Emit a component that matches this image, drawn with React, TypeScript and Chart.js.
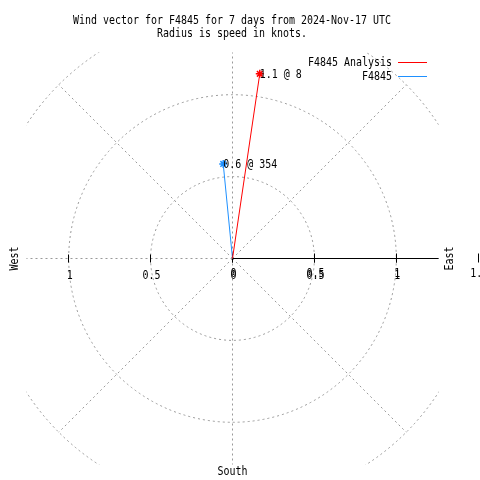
import { useEffect, useRef } from "react";
import { Chart, registerables } from "chart.js";

Chart.register(...registerables);

// ---- data ----
const titleLines = [
  "Wind vector for F4845 for 7 days from 2024-Nov-17 UTC",
  "Radius is speed in knots.",
];
const seriesNames = ["F4845 Analysis", "F4845"];
const speeds = [1.14, 0.58]; // knots
const directions = [8.4, 354.4]; // degrees, compass
const seriesColors = ["#ff0000", "#1e90ff"];
const ringRadii = [0.5, 1, 1.5];
const spokeDirections = [0, 45, 90, 135, 180, 225, 270, 315];
const axisTicks = [-1, -0.5, 0, 0.5, 1];
const radiusTicks = [0, 0.5, 1, 1.5];
const compassWest = "West";
const compassEast = "East";
const compassSouth = "South";

const BOX = 1.258;
const FONT = '12px "DejaVu Sans Mono", "Liberation Mono", monospace';
const CW = 6;

function txt(ctx: CanvasRenderingContext2D, s: string, x: number, y: number, align: CanvasTextAlign) {
  ctx.textAlign = align;
  ctx.fillText(s, x, y, s.length * CW);
}

const fmt = (v: number) => String(Math.abs(v));

const polarPlugin = {
  id: "polarGrid",
  beforeDatasetsDraw(chart: any) {
    const ctx: CanvasRenderingContext2D = chart.ctx;
    const xs = chart.scales.x;
    const ys = chart.scales.y;
    const px = (v: number) => xs.getPixelForValue(v);
    const py = (v: number) => ys.getPixelForValue(v);
    const cx = px(0);
    const cy = py(0);
    const kx = px(1) - cx;
    const ky = cy - py(1);
    ctx.save();
    ctx.beginPath();
    ctx.rect(px(-BOX), py(BOX), px(BOX) - px(-BOX), py(-BOX) - py(BOX));
    ctx.clip();
    ctx.strokeStyle = "#999999";
    ctx.lineWidth = 1;
    ctx.setLineDash([2, 3]);
    ringRadii.forEach((r) => {
      ctx.beginPath();
      ctx.ellipse(cx, cy, r * kx, r * ky, 0, 0, Math.PI * 2);
      ctx.stroke();
    });
    const R = ringRadii[ringRadii.length - 1];
    spokeDirections.forEach((a) => {
      const t = (a * Math.PI) / 180;
      ctx.beginPath();
      ctx.moveTo(cx, cy);
      ctx.lineTo(px(R * Math.sin(t)), py(R * Math.cos(t)));
      ctx.stroke();
    });
    ctx.restore();

    // east axis
    ctx.save();
    ctx.strokeStyle = "#000";
    ctx.lineWidth = 1;
    ctx.beginPath();
    ctx.moveTo(cx, cy);
    ctx.lineTo(px(BOX), cy);
    ctx.stroke();
    // ticks
    axisTicks.forEach((v) => {
      const x = Math.round(px(v) - 0.5) + 0.5;
      ctx.beginPath();
      ctx.moveTo(x, cy - 4);
      ctx.lineTo(x, cy + 4);
      ctx.stroke();
    });
    radiusTicks.forEach((v) => {
      const x = Math.round(px(v) - 0.5) + 0.5;
      ctx.beginPath();
      ctx.moveTo(x, cy - 5);
      ctx.lineTo(x, cy + 4);
      ctx.stroke();
    });
    ctx.restore();
  },
  afterDatasetsDraw(chart: any) {
    const ctx: CanvasRenderingContext2D = chart.ctx;
    const xs = chart.scales.x;
    const ys = chart.scales.y;
    const px = (v: number) => xs.getPixelForValue(v);
    const py = (v: number) => ys.getPixelForValue(v);
    const cx = px(0);
    const cy = py(0);
    ctx.save();
    ctx.fillStyle = "#000";
    ctx.font = FONT;
    ctx.textBaseline = "alphabetic";

    // title
    txt(ctx, titleLines[0], 232, 24, "center");
    txt(ctx, titleLines[1], 232, 37, "center");

    // legend
    seriesNames.forEach((name, i) => {
      const ly = 62 + 14 * i;
      ctx.fillStyle = "#000";
      txt(ctx, name, 392, ly + 4, "right");
      ctx.strokeStyle = seriesColors[i];
      ctx.lineWidth = 1;
      ctx.beginPath();
      ctx.moveTo(398, ly + 0.5);
      ctx.lineTo(427, ly + 0.5);
      ctx.stroke();
    });

    // vector labels
    ctx.fillStyle = "#000";
    speeds.forEach((s, i) => {
      const meta = chart.getDatasetMeta(i);
      const pt = meta.data[1];
      const label = s.toFixed(1) + " @ " + Math.round(directions[i]);
      txt(ctx, label, pt.x, pt.y + 4, "left");
    });

    // tick labels
    axisTicks.forEach((v) => {
      txt(ctx, fmt(v), px(v) + 1, 279, "center");
    });
    radiusTicks.forEach((v) => {
      txt(ctx, fmt(v), px(v) + 1, 277, "center");
    });

    // compass labels
    txt(ctx, compassSouth, cx, 475, "center");
    ctx.textBaseline = "middle";
    [
      [compassWest, 15],
      [compassEast, 450],
    ].forEach(([s, x]) => {
      ctx.save();
      ctx.translate(x as number, cy);
      ctx.rotate(-Math.PI / 2);
      txt(ctx, s as string, 0, 0, "center");
      ctx.restore();
    });
    ctx.restore();
  },
};

export default function App() {
  const ref = useRef<HTMLCanvasElement>(null);
  useEffect(() => {
    if (!ref.current) return;
    const datasets = speeds.map((s, i) => {
      const t = (directions[i] * Math.PI) / 180;
      return {
        label: seriesNames[i],
        data: [
          { x: 0, y: 0 },
          { x: s * Math.sin(t), y: s * Math.cos(t) },
        ],
        showLine: true,
        borderColor: seriesColors[i],
        backgroundColor: seriesColors[i],
        borderWidth: 1,
        pointRadius: [0, 4],
        pointStyle: "star",
        pointBorderColor: seriesColors[i],
        pointBorderWidth: 1.5,
      };
    });
    const scaleK = 163.8;
    const chart = new Chart(ref.current, {
      type: "scatter",
      data: { datasets },
      options: {
        animation: false,
        responsive: false,
        maintainAspectRatio: false,
        layout: { padding: 0, autoPadding: false },
        plugins: {
          legend: { display: false },
          title: { display: false },
          tooltip: { enabled: false },
        },
        scales: {
          x: { type: "linear", display: false, min: -232.5 / scaleK, max: 247.5 / scaleK },
          y: { type: "linear", display: false, min: -221.5 / scaleK, max: 258.5 / scaleK },
        },
      } as any,
      plugins: [polarPlugin],
    });
    return () => chart.destroy();
  }, []);
  return (
    <div style={{ position: "fixed", left: 0, top: 0, width: 480, height: 480, background: "#fff" }}>
      <canvas ref={ref} width={480} height={480} style={{ display: "block" }} />
    </div>
  );
}
